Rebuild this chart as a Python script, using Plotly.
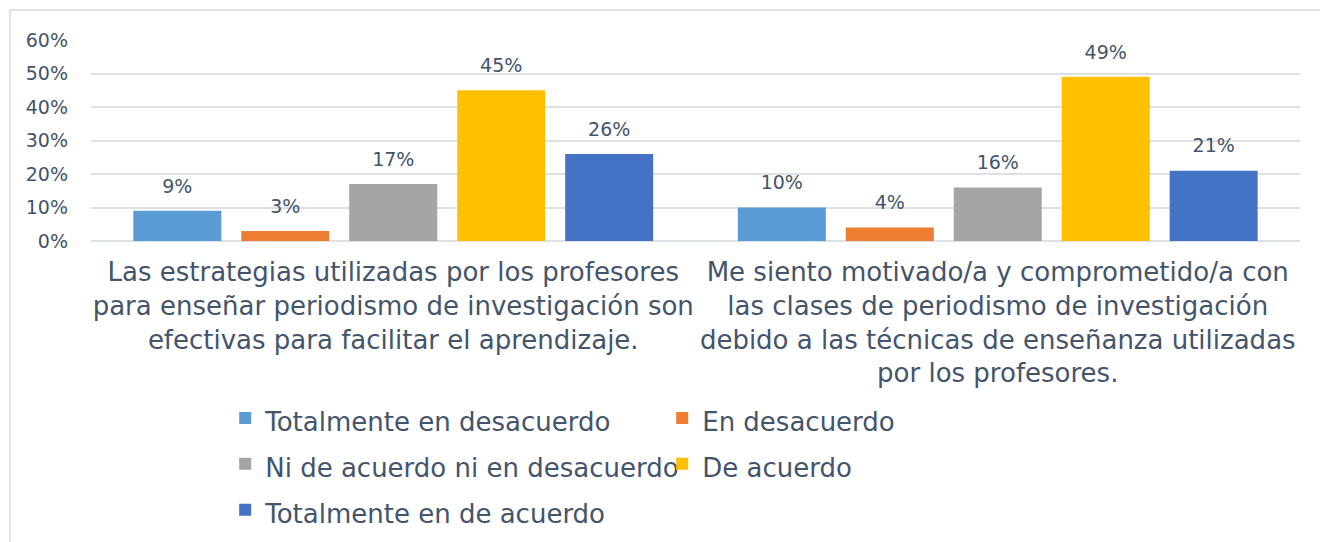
import plotly.graph_objects as go

categories = [
    "Las estrategias utilizadas por los profesores<br>para enseñar periodismo de investigación son<br>efectivas para facilitar el aprendizaje.",
    "Me siento motivado/a y comprometido/a con<br>las clases de periodismo de investigación<br>debido a las técnicas de enseñanza utilizadas<br>por los profesores.",
]
series_names = [
    "Totalmente en desacuerdo",
    "En desacuerdo",
    "Ni de acuerdo ni en desacuerdo",
    "De acuerdo",
    "Totalmente en de acuerdo",
]
values = [
    [0.09, 0.10],
    [0.03, 0.04],
    [0.17, 0.16],
    [0.45, 0.49],
    [0.26, 0.21],
]
colors = ["#5B9BD5", "#ED7D31", "#A5A5A5", "#FFC000", "#4472C4"]
y_ticks = [0, 0.1, 0.2, 0.3, 0.4, 0.5, 0.6]

text_color = "#44546A"
font_family = "DejaVu Sans, Verdana, sans-serif"
gap = 0.107

fig = go.Figure()
for name, vals, col in zip(series_names, values, colors):
    fig.add_trace(go.Bar(
        x=categories, y=vals,
        name=f"<span style='font-size:26px'>{name}</span>",
        marker=dict(color=col, line=dict(width=0)),
        hoverinfo="y",
    ))
# data labels above the bars
for name, vals in zip(series_names, values):
    fig.add_trace(go.Scatter(
        x=categories, y=vals, mode="markers+text",
        marker=dict(size=20, opacity=0),
        text=[f"{round(v*100)}%" for v in vals],
        textposition="top center",
        textfont=dict(size=19, color=text_color, family=font_family),
        showlegend=False, hoverinfo="skip", cliponaxis=False,
    ))

fig.update_layout(
    width=1320, height=570,
    margin=dict(l=91, r=20, t=40, b=329),
    paper_bgcolor="white", plot_bgcolor="white",
    barmode="group", bargap=gap, bargroupgap=0.185,
    scattermode="group", scattergap=gap,
    font=dict(family=font_family, color=text_color),
    showlegend=True,
    legend=dict(
        orientation="h", x=0.111, xanchor="left", y=-0.741, yanchor="top",
        font=dict(size=33, color=text_color, family=font_family),
        entrywidth=392, entrywidthmode="pixels",
        itemwidth=30, traceorder="normal",
    ),
    xaxis=dict(
        tickfont=dict(size=26, color=text_color, family=font_family),
        showgrid=False, showline=False, ticks="", ticklabelstandoff=13,
    ),
    yaxis=dict(
        range=[0, 0.6], tickvals=y_ticks, tickformat=".0%",
        tickfont=dict(size=19, color=text_color, family=font_family),
        showgrid=True, gridcolor="#DDE1E6", gridwidth=1.5,
        zeroline=True, zerolinecolor="#DDE1E6", zerolinewidth=1.5,
        showline=False, ticks="", ticklabelstandoff=22,
    ),
    shapes=[dict(
        type="path", xref="paper", yref="paper",
        path="M -0.067,-2 L -0.067,1.149 L 1.2,1.149",
        line=dict(color="#D9D9D9", width=1.5),
        layer="below",
    )],
)

fig.write_html(
    "out.html",
    config={"displayModeBar": False},
    post_script="document.body.style.margin='0';document.body.style.overflow='hidden';",
)
